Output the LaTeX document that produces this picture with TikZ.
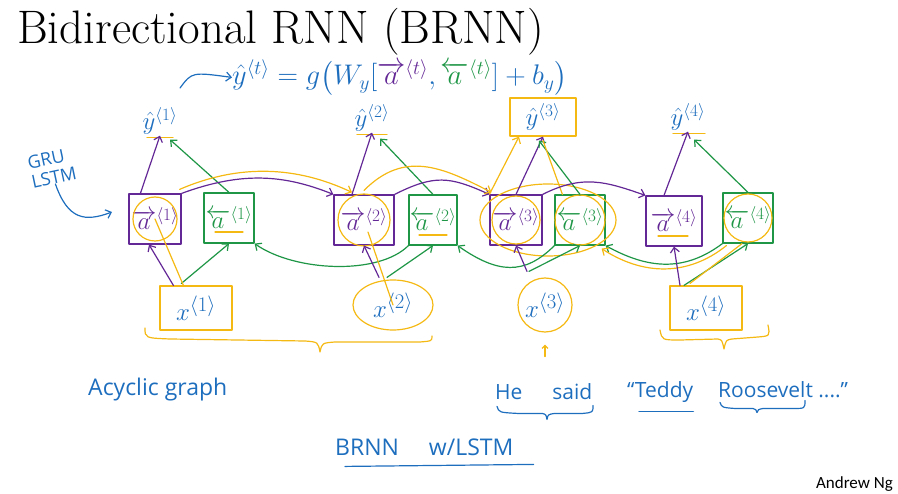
\documentclass[tikz,border=0pt]{standalone}
\usepackage{amsmath}
\usepackage{fontspec}
\newfontfamily\handfont{Open Sans}
\newfontfamily\ngfont{Carlito}
\usetikzlibrary{arrows.meta,calc,shapes.geometric}
\definecolor{inkblue}{RGB}{30,110,190}
\definecolor{inkpurple}{RGB}{100,40,150}
\definecolor{inkgreen}{RGB}{30,150,70}
\definecolor{inkyellow}{RGB}{245,185,20}
\begin{document}
\begin{tikzpicture}[x=1pt,y=-1pt,
  pen/.style={line width=1.2pt, line cap=round, line join=round},
  arr/.style={pen,-{Straight Barb[length=5pt,width=9pt]}},
  fwdbox/.style={draw=inkpurple, pen, minimum width=52pt, minimum height=50pt, inner sep=0pt, text=inkpurple, font=\fontsize{24}{24}\selectfont},
  bwdbox/.style={draw=inkgreen, pen, minimum width=50pt, minimum height=50pt, inner sep=0pt, text=inkgreen, font=\fontsize{24}{24}\selectfont},
  yhatlab/.style={text=inkblue, inner sep=1pt, font=\fontsize{24}{24}\selectfont},
  xlab/.style={text=inkblue, inner sep=1pt, font=\fontsize{28}{28}\selectfont},
  hl/.style={pen, draw=inkyellow},
  hand/.style={text=inkblue, inner sep=0pt, font=\handfont\fontsize{21}{21}\selectfont}
]
\useasboundingbox (0,0) rectangle (898,494);

% title
\node[anchor=base west, inner sep=0pt, font=\fontsize{47}{47}\selectfont] (title) at (17,44) {Bidirectional RNN (BRNN)};

% formula
\node[anchor=base west, inner sep=0pt, text=inkblue, scale=1.14, transform shape, font=\fontsize{24}{24}\selectfont] (formula) at (232,85)
 {$\hat{y}^{\langle t\rangle}=g\bigl(W_y[\textcolor{inkpurple}{\overrightarrow{a}^{\langle t\rangle}},\textcolor{inkgreen}{\overleftarrow{a}^{\langle t\rangle}}]+b_y\bigr)$};
\coordinate (fa0) at (180,88);
\draw[arr, inkblue] (fa0) .. controls (192,72) .. (formula.west);

% GRU / LSTM
\node[hand, rotate=12, align=left, font=\handfont\fontsize{18}{19}\selectfont] (gru) at (52,168) {GRU\\ LSTM};
\draw[arr, inkblue] (gru.south) .. controls (68,220) and (85,222) .. (112,212);

% forward boxes
\node[fwdbox] (f1) at (155,219) {$\overrightarrow{a}^{\langle 1\rangle}$};
\node[fwdbox, minimum width=60pt] (f2) at (364,220) {$\overrightarrow{a}^{\langle 2\rangle}$};
\node[fwdbox] (f3) at (516,220) {$\overrightarrow{a}^{\langle 3\rangle}$};
\node[fwdbox, minimum width=56pt] (f4) at (674,221) {$\overrightarrow{a}^{\langle 4\rangle}$};
% backward boxes
\node[bwdbox] (b1) at (229,218) {$\overleftarrow{a}^{\langle 1\rangle}$};
\node[bwdbox, minimum width=48pt] (b2) at (433,220) {$\overleftarrow{a}^{\langle 2\rangle}$};
\node[bwdbox] (b3) at (580,220) {$\overleftarrow{a}^{\langle 3\rangle}$};
\node[bwdbox] (b4) at (748,218) {$\overleftarrow{a}^{\langle 4\rangle}$};

% outputs
\node[yhatlab] (y1) at (160,121) {$\hat{y}^{\langle 1\rangle}$};
\node[yhatlab] (y2) at (372,118) {$\hat{y}^{\langle 2\rangle}$};
\node[yhatlab, draw=inkyellow, pen, minimum width=66pt, minimum height=38pt] (y3) at (543,117) {$\hat{y}^{\langle 3\rangle}$};
\node[yhatlab] (y4) at (688,117) {$\hat{y}^{\langle 4\rangle}$};

% inputs
\node[xlab, draw=inkyellow, pen, minimum width=72pt, minimum height=44pt] (x1) at (196,308) {$x^{\langle 1\rangle}$};
\node[xlab, draw=inkyellow, pen, ellipse, minimum width=80pt, minimum height=50pt] (x2) at (393,305) {$x^{\langle 2\rangle}$};
\node[xlab, draw=inkyellow, pen, circle, minimum size=54pt, inner sep=0pt] (x3) at (545,305) {$x^{\langle 3\rangle}$};
\node[xlab, draw=inkyellow, pen, minimum width=72pt, minimum height=44pt] (x4) at (706,308) {$x^{\langle 4\rangle}$};

% yellow highlights inside boxes
\draw[hl] (f1.center) circle[radius=22pt];
\draw[hl] (f2.center) circle[radius=26pt];
\draw[hl] (f3.center) circle[radius=24pt];
\draw[hl] (b3.center) circle[radius=25pt];
\draw[hl] (b4.center) circle[radius=24pt];
\draw[hl] ($(f3)!0.5!(b3)$) ellipse[x radius=68pt, y radius=36pt];
\draw[hl] ($(b1.center)+(-14,14)$) -- ++(28,0);
\draw[hl] ($(b2.center)+(-14,15)$) -- ++(28,0);
\draw[hl] ($(f4.center)+(-16,15)$) -- ++(30,0);
\draw[hl] ($(y1.south)+(-13,2)$) -- ++(26,0);
\draw[hl] ($(y2.south)+(-15,2)$) -- ++(30,0);
\draw[hl] ($(y4.south)+(-15,2)$) -- ++(32,0);

% outputs connectors
\draw[arr, inkpurple] (f1.north west) ++(12,0) coordinate (f1o) -- (y1.south);
\draw[arr, inkpurple] (f2.north) ++(-12,0) coordinate (f2o) -- (y2.south);
\draw[arr, inkpurple] (f3.north) -- (y3.south);
\draw[arr, inkpurple] (f4.north) ++(-10,0) coordinate (f4o) -- (y4.south);
\draw[arr, inkgreen] (b1.north) -- ($(y1.south)+(10,4)$);
\draw[arr, inkgreen] (b2.north) -- ($(y2.south)+(8,6)$);
\draw[arr, inkgreen] (b3.north) -- ($(y3.south)+(-4,4)$);
\draw[arr, inkgreen] (b4.north) -- ($(y4.south)+(6,8)$);
\draw[hl, -{Straight Barb[length=5pt,width=9pt]}] (f3.north west) -- ($(y3.south)+(-24,0)$);
\draw[hl] (b3.north west) ++(8,0) -- ($(y3.south)+(0,4)$);

% forward recurrence (purple) over the backward boxes
\draw[arr, inkpurple] (f1.north east) .. controls +(60,-22) and +(-50,-20) .. (f2.north west);
\draw[arr, inkpurple] (f2.north east) .. controls +(40,-20) and +(-40,-18) .. (f3.north west);
\draw[arr, inkpurple] (f3.north east) .. controls +(40,-20) and +(-40,-14) .. (f4.north west);
% yellow highlight of the forward path
\draw[hl, -{Straight Barb[length=5pt,width=9pt]}] ($(f1.north east)+(-2,-4)$) .. controls +(60,-26) and +(-55,-26) .. ($(f2.north)+(-12,-2)$);
\draw[hl, -{Straight Barb[length=5pt,width=9pt]}] ($(f2.north)+(0,-4)$) .. controls +(40,-40) and +(-50,-26) .. ($(f3.north west)+(2,-2)$);

% backward recurrence (green) under the forward boxes
\draw[arr, inkgreen] (b2.south west) .. controls +(-30,30) and +(40,28) .. (b1.south east);
\draw[arr, inkgreen] (b3.south west) .. controls +(-30,30) and +(40,28) .. (b2.south east);
\draw[arr, inkgreen] (b4.south west) .. controls +(-40,30) and +(40,22) .. (b3.south east);
\draw[hl, -{Straight Barb[length=5pt,width=9pt]}] ($(b4.south west)+(4,2)$) .. controls +(-40,32) and +(40,26) .. ($(b3.south east)+(-4,3)$);

% input connectors
\draw[arr, inkpurple] ($(x1.north west)+(14,0)$) -- ($(f1.south)+(-6,0)$);
\draw[arr, inkgreen] ($(x1.north west)+(22,-2)$) -- (b1.south);
\draw[hl] ($(x1.north west)+(24,0)$) -- (f1.center);
\draw[arr, inkpurple] ($(x2.north)+(-14,-2)$) -- (f2.south);
\draw[arr, inkgreen] ($(x2.north)+(-6,-2)$) -- (b2.south);
\draw[hl] (x2.center) -- ($(f2.center)+(4,12)$);
\draw[arr, inkpurple] ($(x3.north)+(-18,-6)$) -- (f3.south);
\draw[arr, inkgreen] ($(x3.north)+(-16,-6)$) -- (b3.south);
\draw[arr, inkpurple] ($(x4.north)+(-26,0)$) -- (f4.south);
\draw[arr, inkgreen] ($(x4.north)+(-22,0)$) -- (b4.south);
\draw[hl] ($(x4.north)+(-16,-2)$) -- ($(b4.south)+(-6,0)$);
\coordinate (x3arrow) at ($(x3.south)+(0,24)$);
\draw[hl, -{Straight Barb[length=3pt,width=6pt]}] (x3arrow) -- ++(0,-12);

% yellow braces under inputs
\coordinate (brA) at (145,328);
\draw[hl] (brA) .. controls (145,338) .. (170,339) -- (305,341) .. controls (318,342) .. (320,352) .. controls (322,343) .. (335,342) -- (420,342) .. controls (432,341) .. (432,336);
\coordinate (brB) at (660,330);
\draw[hl] (brB) .. controls (662,340) .. (680,340) -- (718,339) .. controls (722,340) .. (724,349) .. controls (726,340) .. (732,339) -- (758,337) .. controls (770,336) .. (768,325);

% bottom annotations
\node[hand, anchor=base west, font=\handfont\fontsize{23}{23}\selectfont] (acyc) at (88,396) {Acyclic graph};
\node[hand, anchor=base west] (he) at (495,400) {He\hspace{30pt}said};
\draw[pen, inkblue] (he.south west) ++(2,6) .. controls +(2,6) .. ++(20,7) -- ++(25,0) .. controls +(4,1) .. ++(5,6) .. controls +(1,-5) .. ++(8,-6) -- ++(28,0) .. controls +(10,-1) .. ++(10,-8);
\node[hand, anchor=base west] (teddy) at (627,398) {“Teddy};
\draw[pen, inkblue] ($(teddy.south west)+(12,8)$) -- ($(teddy.south east)+(0,8)$);
\node[hand, anchor=base west] (roos) at (718,398) {Roosevelt ....”};
\draw[pen, inkblue] ($(roos.south west)+(2,4)$) .. controls +(2,5) .. ++(15,6) -- ++(18,0) .. controls +(3,1) .. ++(4,4) .. controls +(1,-3) .. ++(6,-4) -- ++(30,0) .. controls +(12,0) .. ++(12,-8);
\node[hand, anchor=base west, font=\handfont\fontsize{23}{23}\selectfont] (brnn) at (335,456) {BRNN\hspace{30pt}w/LSTM};
\draw[pen, inkblue] ($(brnn.south west)+(10,10)$) -- ($(brnn.south east)+(20,8)$);

\node[anchor=base east, inner sep=0pt, font=\ngfont\fontsize{17}{17}\selectfont] (ng) at (893,489) {Andrew Ng};
\end{tikzpicture}
\end{document}
